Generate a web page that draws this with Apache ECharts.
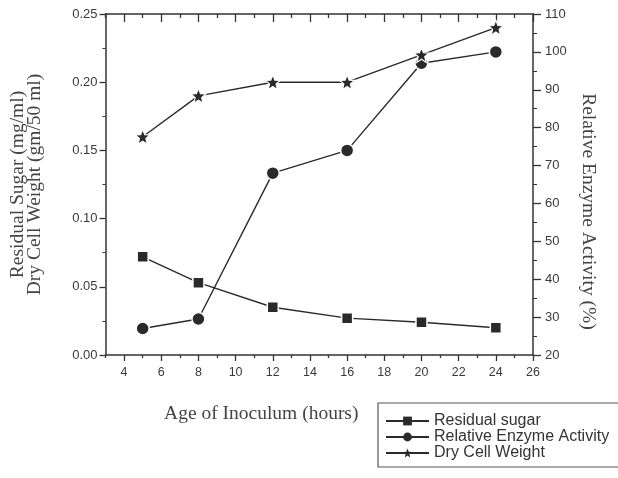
<!DOCTYPE html>
<html>
<head>
<meta charset="utf-8">
<script src="https://cdn.jsdelivr.net/npm/echarts@6/dist/echarts.min.js"></script>
<style>
html,body{margin:0;padding:0;background:#fff;}
#chart{width:618px;height:478px;}
</style>
</head>
<body>
<div id="chart"></div>
<script>
// ---- data ----
var hours = [5, 8, 12, 16, 20, 24];
var residualSugar = [0.072, 0.053, 0.035, 0.027, 0.024, 0.020];
var enzymeActivity = [27, 29.5, 68, 74, 97, 100];
var dryCellWeight = [0.160, 0.190, 0.200, 0.200, 0.220, 0.240];
var xMajorTicks = [4, 6, 8, 10, 12, 14, 16, 18, 20, 22, 24, 26];
var xMinorTicks = [3, 5, 7, 9, 11, 13, 15, 17, 19, 21, 23, 25];
var seriesNames = ['Residual sugar', 'Relative Enzyme Activity', 'Dry Cell Weight'];

function pairs(xs, ys) { return xs.map(function (x, i) { return [x, ys[i]]; }); }

var axisColor = '#333';
var textColor = '#3a3a3a';
var lineColor = '#2a2a2a';
var star = 'path://M12,1.5 L14.9,8.7 L22.6,9.1 L16.6,14 L18.6,21.6 L12,17.4 L5.4,21.6 L7.4,14 L1.4,9.1 L9.1,8.7 Z';

var chart = echarts.init(document.getElementById('chart'), null, {renderer: 'canvas'});

function xAx(pos, ticks, len, inside, showLine, showLabel) {
  return {
    type: 'value', min: 3, max: 26, position: pos,
    axisLine: {show: showLine, onZero: false, lineStyle: {color: axisColor, width: 1.5}},
    axisTick: {show: true, inside: inside, customValues: ticks, length: len, lineStyle: {color: axisColor, width: 1.3}},
    axisLabel: {show: showLabel, customValues: ticks, margin: 11, color: textColor,
      fontFamily: 'Liberation Sans', fontSize: 12.5},
    splitLine: {show: false}
  };
}

var xBottom = xAx('bottom', xMajorTicks, 6, false, true, true);
xBottom.name = 'Age of Inoculum (hours)';
xBottom.nameLocation = 'middle';
xBottom.nameGap = 49;
xBottom.nameTextStyle = {fontFamily: 'Liberation Serif', fontSize: 19.5, color: '#444', padding: [0, 116, 0, 0]};

var option = {
  animation: false,
  backgroundColor: '#fff',
  grid: {left: 103, top: 14, width: 430, height: 341},
  legend: {
    orient: 'vertical', left: 378, top: 403,
    data: seriesNames,
    itemWidth: 43, itemHeight: 11, itemGap: 0,
    padding: [10, 30, 6, 7],
    borderColor: '#555', borderWidth: 1.2,
    itemStyle: {borderWidth: 0},
    textStyle: {fontFamily: 'Liberation Sans', fontSize: 16, lineHeight: 16, color: '#333'}
  },
  xAxis: [
    xBottom,
    xAx('bottom', xMinorTicks, 3, false, false, false),
    xAx('top', xMajorTicks, 8, true, true, false),
    xAx('top', xMinorTicks, 4, true, false, false)
  ],
  yAxis: [
    {
      type: 'value', min: 0, max: 0.25, interval: 0.05, position: 'left',
      axisLine: {show: true, onZero: false, lineStyle: {color: axisColor, width: 1.5}},
      axisTick: {show: true, length: 6, lineStyle: {color: axisColor, width: 1.3}},
      minorTick: {show: true, splitNumber: 2, length: 3, lineStyle: {color: axisColor}},
      axisLabel: {margin: 8, color: textColor, fontFamily: 'Liberation Sans', fontSize: 13,
        formatter: function (v) { return v.toFixed(2); }},
      splitLine: {show: false},
      name: 'Residual Sugar (mg/ml)\nDry Cell Weight (gm/50 ml)',
      nameLocation: 'middle', nameRotate: 90, nameGap: 62,
      nameTextStyle: {fontFamily: 'Liberation Serif', fontSize: 19.5, color: '#444', lineHeight: 17}
    },
    {
      type: 'value', min: 20, max: 110, interval: 10, position: 'right',
      axisLine: {show: true, onZero: false, lineStyle: {color: axisColor, width: 1.5}},
      axisTick: {show: true, length: 8, lineStyle: {color: axisColor, width: 1.3}},
      minorTick: {show: true, splitNumber: 2, length: 4, lineStyle: {color: axisColor}},
      axisLabel: {margin: 12, color: textColor, fontFamily: 'Liberation Sans', fontSize: 13},
      splitLine: {show: false},
      name: 'Relative Enzyme Activity (%)',
      nameLocation: 'middle', nameRotate: -90, nameGap: 45,
      nameTextStyle: {fontFamily: 'Liberation Serif', fontSize: 19.5, color: '#444', padding: [0, 0, 0, 54]}
    }
  ],
  series: [
    {
      name: seriesNames[0], type: 'line', xAxisIndex: 0, yAxisIndex: 0,
      data: pairs(hours, residualSugar),
      symbol: 'rect', symbolSize: 11,
      lineStyle: {color: lineColor, width: 1.4},
      itemStyle: {color: lineColor, borderColor: '#fff', borderWidth: 1.5}
    },
    {
      name: seriesNames[1], type: 'line', xAxisIndex: 0, yAxisIndex: 1,
      data: pairs(hours, enzymeActivity),
      symbol: 'circle', symbolSize: 13,
      lineStyle: {color: lineColor, width: 1.4},
      itemStyle: {color: lineColor, borderColor: '#fff', borderWidth: 1.5}
    },
    {
      name: seriesNames[2], type: 'line', xAxisIndex: 0, yAxisIndex: 0,
      data: pairs(hours, dryCellWeight),
      symbol: star, symbolSize: 15,
      lineStyle: {color: lineColor, width: 1.4},
      itemStyle: {color: lineColor, borderColor: '#fff', borderWidth: 1.2}
    }
  ]
};
chart.setOption(option);
</script>
</body>
</html>
